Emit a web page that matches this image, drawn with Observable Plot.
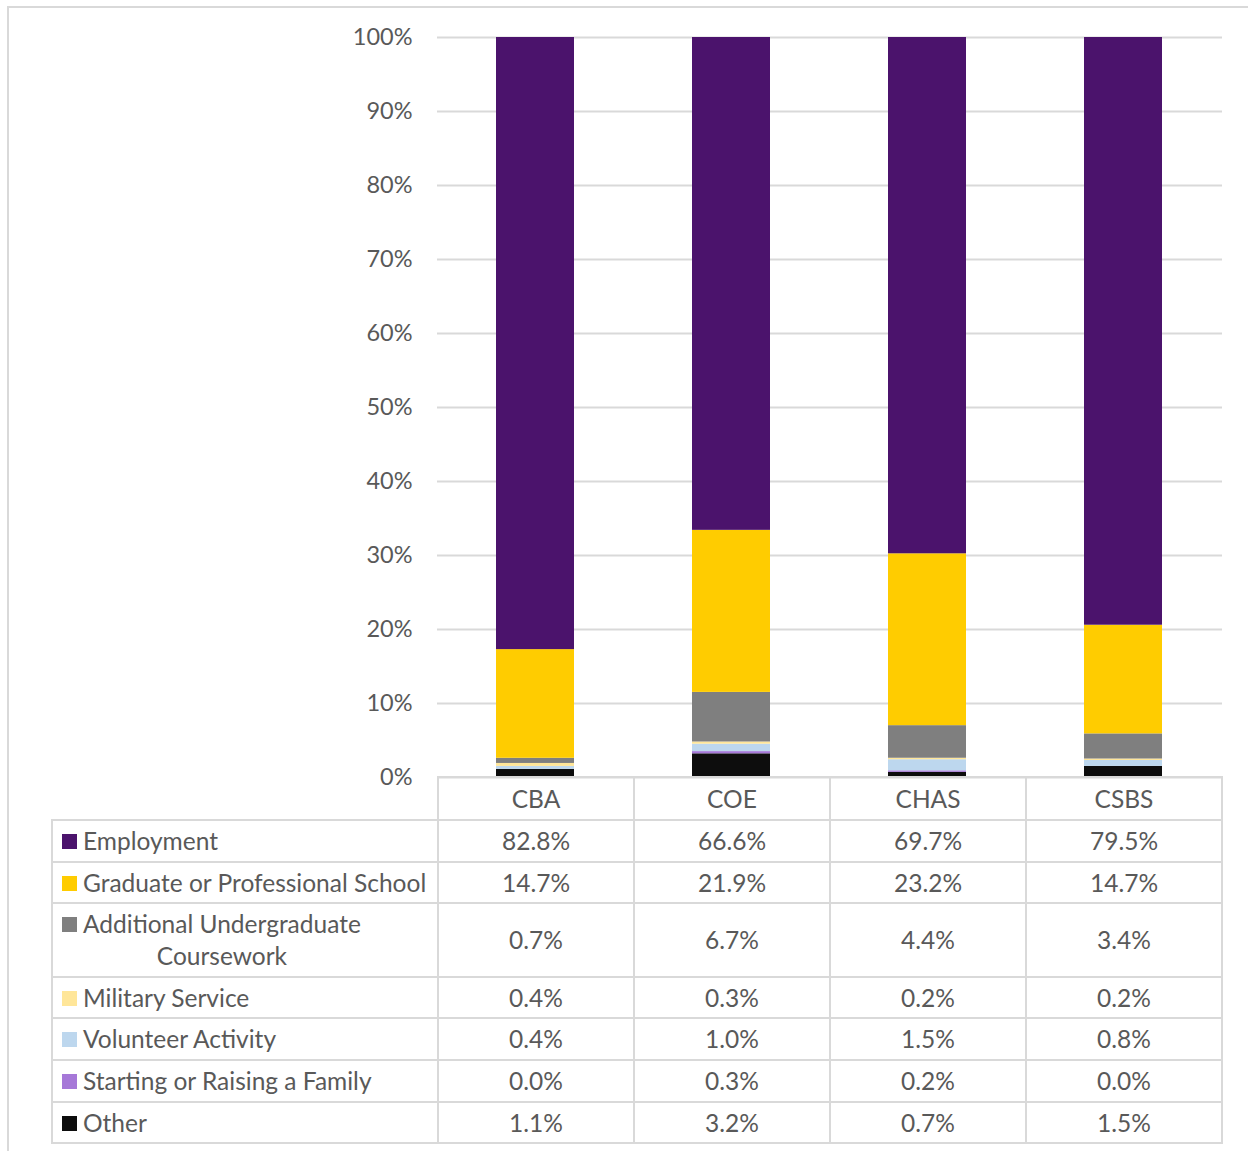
<!DOCTYPE html>
<html>
<head>
<meta charset="utf-8">
<script src="https://cdn.jsdelivr.net/npm/d3@7"></script>
<script src="https://cdn.jsdelivr.net/npm/@observablehq/plot@0.6"></script>
<style>
  html, body { margin: 0; padding: 0; background: #fff; }
  #wrap { position: relative; width: 1248px; height: 1151px; overflow: hidden; font-family: Lato, sans-serif; color: #595959; }
  #frame { position: absolute; left: 7px; top: 6px; width: 1260px; height: 1170px; border-top: 2px solid #d9d9d9; border-left: 2px solid #d9d9d9; box-sizing: border-box; }
  #chart { position: absolute; left: 0; top: 0; }
  #tbl { position: absolute; left: 51px; top: 776px; border-collapse: collapse; table-layout: fixed; font-size: 24.5px; color: #595959; }
  #tbl td { border: 2px solid #d9d9d9; padding: 4px 8px 3.6px 8px; line-height: 32px; text-align: center; vertical-align: middle; }
  #tbl tr.head td { padding-top: 5.4px; }
  #tbl td.blank { border: none; }
  #tbl td.lab { text-align: left; padding-left: 9px; }
  .labwrap { display: flex; align-items: flex-start; }
  .sw { width: 15px; height: 15px; flex: none; margin-top: 9px; margin-right: 6px; }
  .lt { display: inline-block; text-align: center; white-space: pre-line; }
</style>
</head>
<body>
<div id="wrap">
  <div id="frame"></div>
  <div id="chart"></div>
  <table id="tbl"></table>
</div>
<script>
const colleges = ["CBA", "COE", "CHAS", "CSBS"];
const series = [
  "Employment",
  "Graduate or Professional School",
  "Additional Undergraduate\nCoursework",
  "Military Service",
  "Volunteer Activity",
  "Starting or Raising a Family",
  "Other"
];
const colors = ["#4b136c", "#ffcc00", "#7f7f7f", "#ffe699", "#bdd7ee", "#a678d8", "#0d0d0d"];
const employment   = [82.8, 66.6, 69.7, 79.5];
const graduate     = [14.7, 21.9, 23.2, 14.7];
const additionalUG = [0.7, 6.7, 4.4, 3.4];
const military     = [0.4, 0.3, 0.2, 0.2];
const volunteer    = [0.4, 1.0, 1.5, 0.8];
const family       = [0.0, 0.3, 0.2, 0.0];
const other        = [1.1, 3.2, 0.7, 1.5];
const yTicks = [0, 0.1, 0.2, 0.3, 0.4, 0.5, 0.6, 0.7, 0.8, 0.9, 1.0];

const values = [employment, graduate, additionalUG, military, volunteer, family, other];

// stacked rows, bottom-up order (Other first, Employment last)
const rows = [];
for (let s = series.length - 1; s >= 0; s--) {
  colleges.forEach((c, i) => rows.push({college: c, series: series[s], value: values[s][i]}));
}

const chart = Plot.plot({
  width: 1248,
  height: 790,
  marginLeft: 437,
  marginRight: 26,
  marginTop: 37,
  marginBottom: 13,
  style: {fontFamily: "Lato, sans-serif", fontSize: "23.5px", color: "#595959", background: "transparent"},
  x: {domain: colleges, paddingInner: 0.6, paddingOuter: 0.3, axis: null},
  y: {domain: [0, 1], ticks: yTicks, tickFormat: d3.format(".0%"), label: null},
  color: {domain: series, range: colors},
  marks: [
    Plot.gridY(yTicks, {stroke: "#d9d9d9", strokeOpacity: 1, strokeWidth: 2}),
    Plot.axisY(yTicks, {tickSize: 0, tickPadding: 25, tickFormat: d3.format(".0%"), fill: "#595959", fontSize: 23.5, label: null}),
    Plot.barY(rows, Plot.stackY({
      x: "college", y: "value", fill: "series", order: null, offset: "normalize"
    }))
  ]
});
document.getElementById("chart").appendChild(chart);

// data table
const tbl = document.getElementById("tbl");
const cg = document.createElement("colgroup");
[386, 196, 196, 196, 196].forEach(w => { const c = document.createElement("col"); c.style.width = w + "px"; cg.appendChild(c); });
tbl.appendChild(cg);
tbl.style.width = (386 + 4 * 196) + "px";

const hr = document.createElement("tr"); hr.className = "head";
const blank = document.createElement("td"); blank.className = "blank"; hr.appendChild(blank);
colleges.forEach(c => { const td = document.createElement("td"); td.textContent = c; hr.appendChild(td); });
tbl.appendChild(hr);

const fmt = d3.format(".1f");
series.forEach((s, si) => {
  const tr = document.createElement("tr");
  const lab = document.createElement("td"); lab.className = "lab";
  const wrap = document.createElement("div"); wrap.className = "labwrap";
  const sw = document.createElement("span"); sw.className = "sw"; sw.style.background = colors[si];
  const t = document.createElement("span"); t.className = "lt"; t.textContent = s;
  wrap.appendChild(sw); wrap.appendChild(t); lab.appendChild(wrap); tr.appendChild(lab);
  values[si].forEach(v => { const td = document.createElement("td"); td.textContent = fmt(v) + "%"; tr.appendChild(td); });
  tbl.appendChild(tr);
});
</script>
</body>
</html>
